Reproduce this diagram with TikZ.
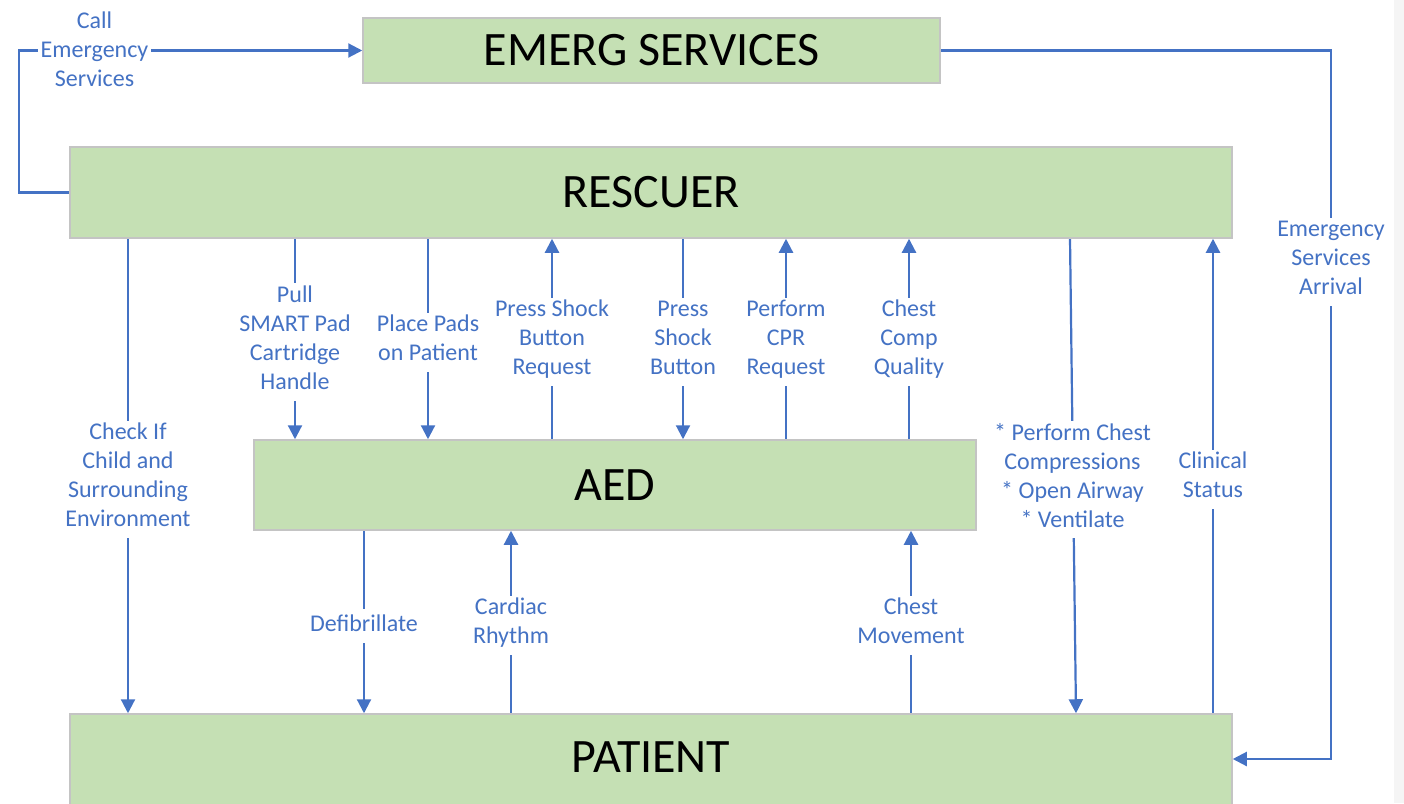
\documentclass[tikz,border=0pt]{standalone}
\usepackage{fontspec}
\setmainfont{Carlito}
\usetikzlibrary{arrows.meta,backgrounds}
\definecolor{boxgreen}{HTML}{C5E0B4}
\definecolor{boxedge}{HTML}{C4C4C4}
\definecolor{flowblue}{HTML}{4472C4}
\definecolor{margingray}{HTML}{F5F5F5}

\begin{document}
\begin{tikzpicture}[x=1pt,y=-1pt,
  actor/.style={draw=boxedge,line width=1.5pt,fill=boxgreen,inner sep=0pt,
    font=\fontsize{48}{58}\selectfont},
  flow/.style={draw=flowblue,line width=2.2pt,-{Triangle[length=14pt,width=14pt]}},
  tag/.style={fill=white,text=flowblue,align=center,inner sep=2.5pt,
    font=\fontsize{24}{29}\selectfont,
    execute at begin node=\strut,execute at end node=\strut}]

\useasboundingbox (0,0) rectangle (1404,803);
\fill[margingray] (1394,0) rectangle (1404,803);

% actors (the patient box runs on past the lower edge of the page)
\node[actor,minimum width=577pt,minimum height=65pt] (ems) at (651.5,50.5) {EMERG SERVICES};
\node[actor,minimum width=1162pt,minimum height=91pt] (rescuer) at (651,192.5) {RESCUER};
\node[actor,minimum width=722pt,minimum height=90pt] (aed) at (615,485) {AED};
\node[actor,minimum width=1162pt,minimum height=100pt,text depth=14pt] (patient) at (651,764) {PATIENT};

% flow labels
\node[tag] (tCall) at (94.5,54) {Call\\Emergency\\Services};
\node[tag] (tArr) at (1331,262) {Emergency\\Services\\Arrival};
\node[tag] (tCheck) at (128,479.5) {Check If\\Child and\\Surrounding\\Environment};
\node[tag] (tPull) at (295,342) {Pull\\SMART Pad\\Cartridge\\Handle};
\node[tag] (tPlace) at (428,342.5) {Place Pads\\on Patient};
\node[tag] (tReq) at (552,342) {Press Shock\\Button\\Request};
\node[tag] (tPress) at (683,342) {Press\\Shock\\Button};
\node[tag] (tCPR) at (786,342) {Perform\\CPR\\Request};
\node[tag] (tComp) at (909,342) {Chest\\Comp\\Quality};
\node[tag] (tCPRdo) at (1072.5,479.5) {* Perform Chest\\Compressions\\* Open Airway\\* Ventilate};
\node[tag] (tClin) at (1213,479.5) {Clinical\\Status};
\node[tag] (tDefib) at (364,626) {Defibrillate};
\node[tag] (tRhythm) at (511,625.5) {Cardiac\\Rhythm};
\node[tag] (tMove) at (911,625.5) {Chest\\Movement};

% connectors, kept underneath the labels
\begin{scope}[on background layer]
  \draw[flow] (rescuer.west) -- ++(-50,0) |- (ems.west);
  \draw[flow] (ems.east) -- (ems.east -| tArr.center) |- ([yshift=5pt]patient.east);
  \draw[flow] (rescuer.south -| tCheck.center) -- (patient.north -| tCheck.center);
  \draw[flow] (rescuer.south -| tPull.center) -- (aed.north -| tPull.center);
  \draw[flow] (rescuer.south -| tPlace.center) -- (aed.north -| tPlace.center);
  \draw[flow] (aed.north -| tReq.center) -- (rescuer.south -| tReq.center);
  \draw[flow] (rescuer.south -| tPress.center) -- (aed.north -| tPress.center);
  \draw[flow] (aed.north -| tCPR.center) -- (rescuer.south -| tCPR.center);
  \draw[flow] (aed.north -| tComp.center) -- (rescuer.south -| tComp.center);
  \draw[flow] ([xshift=-2.5pt]rescuer.south -| tCPRdo.center) -- ([xshift=3.5pt]patient.north -| tCPRdo.center);
  \draw[flow] (patient.north -| tClin.center) -- (rescuer.south -| tClin.center);
  \draw[flow] (aed.south -| tDefib.center) -- (patient.north -| tDefib.center);
  \draw[flow] (patient.north -| tRhythm.center) -- (aed.south -| tRhythm.center);
  \draw[flow] (patient.north -| tMove.center) -- (aed.south -| tMove.center);
\end{scope}
\end{tikzpicture}
\end{document}
